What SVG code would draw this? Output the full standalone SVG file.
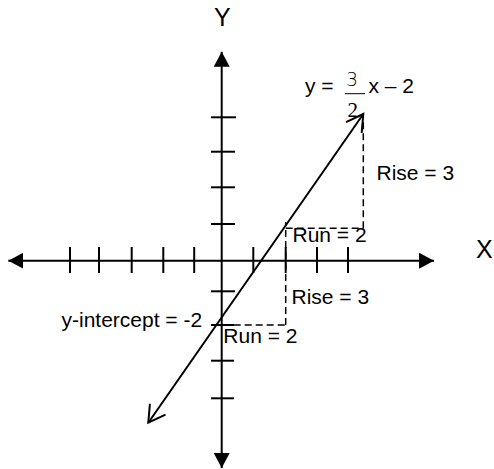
<svg xmlns="http://www.w3.org/2000/svg" width="494" height="469" viewBox="0 0 494 469">
<style>
text{font-family:"Liberation Sans",Arial,sans-serif;fill:#000}
.lbl{font-size:21px}
.ax{font-size:25px}
.axis{stroke:#000;stroke-width:2;fill:none}
.tick{stroke:#000;stroke-width:2}
.dash{stroke:#000;stroke-width:1.5;stroke-dasharray:7 4;fill:none}
.slope{stroke:#000;stroke-width:2;fill:none}
</style>
<defs>
<marker id="solid" viewBox="0 0 15 16" refX="15" refY="8" markerWidth="15" markerHeight="16" markerUnits="userSpaceOnUse" orient="auto-start-reverse">
<path d="M0,0 L15,8 L0,16 z" fill="#000"/>
</marker>
<marker id="open" viewBox="-2 -12 21 24" refX="16.5" refY="0" markerWidth="21" markerHeight="24" markerUnits="userSpaceOnUse" orient="auto-start-reverse">
<path d="M0,-9.5 L16.5,0 L0,9.5" fill="none" stroke="#000" stroke-width="2"/>
</marker>
</defs>
<g id="connectors">
<line id="x-axis" class="axis" x1="8.3" y1="260.7" x2="434" y2="260.7" marker-start="url(#solid)" marker-end="url(#solid)"/>
<line id="y-axis" class="axis" x1="221.7" y1="51.7" x2="221.7" y2="468" marker-start="url(#solid)" marker-end="url(#solid)"/>
<g id="x-ticks" class="tick">
<line x1="70" y1="247" x2="70" y2="273"/>
<line x1="99" y1="247" x2="99" y2="273"/>
<line x1="131.7" y1="247" x2="131.7" y2="273"/>
<line x1="163.3" y1="247" x2="163.3" y2="273"/>
<line x1="194.2" y1="247" x2="194.2" y2="273"/>
<line x1="253.3" y1="247" x2="253.3" y2="273"/>
<line x1="285.7" y1="247" x2="285.7" y2="273"/>
<line x1="317" y1="247" x2="317" y2="273"/>
<line x1="348" y1="247" x2="348" y2="273"/>
</g>
<g id="y-ticks" class="tick">
<line x1="211" y1="117.3" x2="236" y2="117.3"/>
<line x1="211" y1="151.7" x2="235" y2="151.7"/>
<line x1="211" y1="187.3" x2="235" y2="187.3"/>
<line x1="211" y1="224" x2="235" y2="224"/>
<line x1="211" y1="291.3" x2="235" y2="291.3"/>
<line x1="211" y1="325" x2="234" y2="325"/>
<line x1="211" y1="360.7" x2="234" y2="360.7"/>
<line x1="211" y1="398.3" x2="234" y2="398.3"/>
</g>
<g id="guides" class="dash">
<path d="M211.7,325 H285.7"/>
<path d="M285.7,325 V222"/>
<path d="M285.7,228.3 H363.3"/>
<path d="M363.3,228.3 V120"/>
</g>
<line id="slope-line" class="slope" x1="148.3" y1="422.7" x2="363.3" y2="114" marker-start="url(#open)" marker-end="url(#open)"/>
</g>
<g id="label-y"><text class="ax" x="222.3" y="26" text-anchor="middle">Y</text></g>
<g id="label-x"><text class="ax" x="476" y="257.7">X</text></g>
<g id="equation">
<text class="lbl" x="305" y="93">y = </text>
<text x="352" y="86.3" font-size="20" text-anchor="middle" textLength="12" lengthAdjust="spacingAndGlyphs" style="font-family:'DejaVu Sans',sans-serif;font-weight:200">3</text>
<line x1="345" y1="93.7" x2="365" y2="93.7" stroke="#000" stroke-width="1"/>
<text x="352.7" y="117" font-size="21" text-anchor="middle" style="font-family:'Liberation Serif','Times New Roman',serif">2</text>
<text class="lbl" x="368.5" y="93">x – 2</text>
</g>
<g id="rise-upper"><text class="lbl" x="376.5" y="179.5">Rise = 3</text></g>
<g id="run-upper"><text class="lbl" x="292.5" y="241.7">Run = 2</text></g>
<g id="rise-lower"><text class="lbl" x="291.5" y="304.3">Rise = 3</text></g>
<g id="run-lower"><text class="lbl" x="223.3" y="343.3">Run = 2</text></g>
<g id="y-intercept"><text class="lbl" x="61.5" y="326.5">y-intercept = -2</text></g>
</svg>
